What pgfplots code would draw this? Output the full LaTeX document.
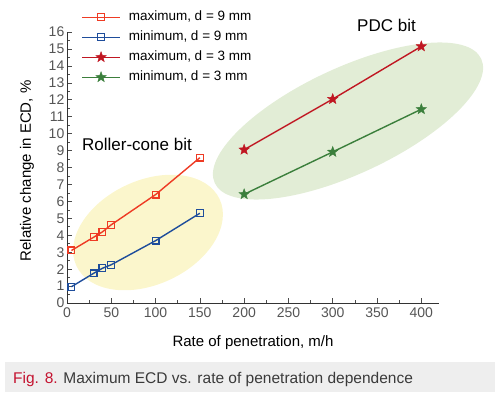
\documentclass[border=0pt]{standalone}
\usepackage{fontspec}
\setmainfont{Liberation Sans}
\usepackage{pgfplots}
\pgfplotsset{compat=1.18}
\definecolor{maxnine}{HTML}{EE3B24}
\definecolor{minnine}{HTML}{1E4D9B}
\definecolor{maxthree}{HTML}{C01722}
\definecolor{minthree}{HTML}{3B7F3C}
\definecolor{yellowfill}{HTML}{FBF6CC}
\definecolor{greenfill}{HTML}{E2EDD6}
\definecolor{ticklab}{HTML}{555555}
\definecolor{captxt}{HTML}{3A3A3A}
\definecolor{capred}{HTML}{C4122F}
\definecolor{capbg}{HTML}{EEEEEE}
\pgfdeclareplotmark{fstar}{%
  \pgfpathmoveto{\pgfpointpolar{90}{\pgfplotmarksize}}%
  \pgfpathlineto{\pgfpointpolar{126}{0.42\pgfplotmarksize}}%
  \pgfpathlineto{\pgfpointpolar{162}{\pgfplotmarksize}}%
  \pgfpathlineto{\pgfpointpolar{198}{0.42\pgfplotmarksize}}%
  \pgfpathlineto{\pgfpointpolar{234}{\pgfplotmarksize}}%
  \pgfpathlineto{\pgfpointpolar{270}{0.42\pgfplotmarksize}}%
  \pgfpathlineto{\pgfpointpolar{306}{\pgfplotmarksize}}%
  \pgfpathlineto{\pgfpointpolar{342}{0.42\pgfplotmarksize}}%
  \pgfpathlineto{\pgfpointpolar{18}{\pgfplotmarksize}}%
  \pgfpathlineto{\pgfpointpolar{54}{0.42\pgfplotmarksize}}%
  \pgfpathclose
  \pgfusepathqfillstroke}
\begin{document}
\begin{tikzpicture}
\useasboundingbox (0pt,0pt) rectangle (500pt,397pt);
% background ellipses
\fill[yellowfill, rotate around={25:(148pt,164.5pt)}] (148pt,164.5pt) ellipse [x radius=79pt, y radius=52pt];
\fill[greenfill, rotate around={25:(348pt,276pt)}] (348pt,276pt) ellipse [x radius=147pt, y radius=53pt];
% caption band
\fill[capbg] (5pt,5pt) rectangle (495pt,35pt);
\node[anchor=base west, inner sep=0pt, font=\fontsize{15.5}{18}\selectfont] at (13pt,14pt) {\textcolor{capred}{Fig. 8.} \textcolor{captxt}{Maximum ECD vs. rate of penetration dependence}};
% annotations
\node[anchor=base west, inner sep=0pt, font=\fontsize{17}{20}\selectfont] at (82pt,247pt) {Roller-cone bit};
\node[anchor=base west, inner sep=0pt, font=\fontsize{17}{20}\selectfont] at (357pt,365pt) {PDC bit};
\begin{axis}[
  at={(67pt,94pt)}, anchor=south west,
  scale only axis, width=372pt, height=271pt,
  xmin=0, xmax=420, ymin=0, ymax=16,
  axis lines=left, axis line style={-, draw=black!80, line width=0.8pt},
  xtick={0,50,...,400}, ytick={0,1,...,16},
  minor x tick num=1, minor y tick num=1,
  tick align=inside,
  major tick length=5pt, minor tick length=3pt,
  tick style={draw=black!70, line width=0.6pt},
  /pgf/number format/assume math mode=true,
  ticklabel style={font=\fontsize{14}{16}\selectfont, text=ticklab},
  yticklabel style={inner sep=0pt, xshift=-2.5pt},
  xticklabel style={inner sep=0pt, yshift=-5pt},
  clip=false,
  xlabel={Rate of penetration, m/h},
  ylabel={Relative change in ECD, \%},
  every axis x label/.style={at={(axis description cs:0.5,-0.162)}, anchor=base, font=\fontsize{15}{18}\selectfont},
  every axis y label/.style={at={(axis description cs:-0.1075,0.487)}, rotate=90, anchor=center, font=\fontsize{15}{18}\selectfont},
  legend style={at={(axis description cs:0.03,1.094)}, anchor=north west, draw=none, fill=none,
    font=\fontsize{13.5}{16}\selectfont, row sep=3pt,
    nodes={inner sep=2pt, text height=10pt, text depth=3pt},
    /tikz/every odd column/.append style={column sep=6pt}},
  legend cell align=left,
  legend image code/.code={\draw[mark repeat=2, mark phase=2] plot coordinates {(0pt,0pt) (19pt,0pt) (38pt,0pt)};},
]
\addplot[maxnine, line width=1.4pt, mark=square, mark size=3.4pt, mark options={fill=white, line width=1.2pt}]
  coordinates {(5,3.1) (30,3.88) (40,4.2) (50,4.62) (100,6.4) (150,8.58)};
\addlegendentry{maximum, d = 9 mm}
\addplot[minnine, line width=1.4pt, mark=square, mark size=3.4pt, mark options={fill=white, line width=1.2pt}]
  coordinates {(5,0.96) (30,1.75) (40,2.05) (50,2.26) (100,3.68) (150,5.3)};
\addlegendentry{minimum, d = 9 mm}
\addplot[maxthree, line width=1.4pt, mark=fstar, mark size=5.5pt, mark options={fill=maxthree, line width=0.4pt}]
  coordinates {(200,9.05) (300,12.04) (400,15.15)};
\addlegendentry{maximum, d = 3 mm}
\addplot[minthree, line width=1.4pt, mark=fstar, mark size=5.5pt, mark options={fill=minthree, line width=0.4pt}]
  coordinates {(200,6.42) (300,8.92) (400,11.44)};
\addlegendentry{minimum, d = 3 mm}
\end{axis}
\end{tikzpicture}
\end{document}
